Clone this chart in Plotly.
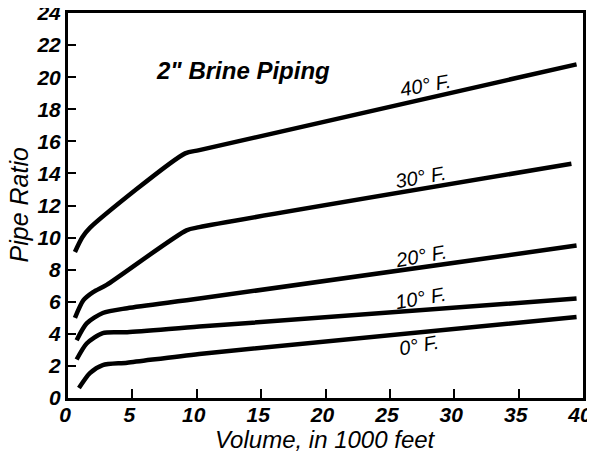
import plotly.graph_objects as go

# Data
vol_40 = [0.54, 1.1, 1.7, 9.1, 10.2, 39.5]
ratio_40 = [9.1, 10.0, 10.6, 15.25, 15.45, 20.8]

vol_30 = [0.54, 1.2, 1.95, 3.0, 9.2, 10.2, 39.1]
ratio_30 = [5.0, 6.1, 6.6, 7.05, 10.45, 10.65, 14.6]

vol_20 = [0.67, 1.45, 2.7, 4.6, 10.2, 39.5]
ratio_20 = [3.6, 4.65, 5.3, 5.6, 6.2, 9.5]

vol_10 = [0.67, 1.45, 2.7, 4.6, 10.2, 39.5]
ratio_10 = [2.4, 3.4, 4.05, 4.1, 4.45, 6.2]

vol_0 = [0.85, 1.7, 2.7, 4.6, 10.2, 39.5]
ratio_0 = [0.62, 1.55, 2.05, 2.2, 2.75, 5.05]

series = [
    ("40° F.", vol_40, ratio_40),
    ("30° F.", vol_30, ratio_30),
    ("20° F.", vol_20, ratio_20),
    ("10° F.", vol_10, ratio_10),
    ("0° F.", vol_0, ratio_0),
]

label_x = [27.8, 27.4, 27.4, 27.4, 27.3]
label_y = [19.5, 13.8, 8.85, 6.25, 3.3]

x_ticks = [0, 5, 10, 15, 20, 25, 30, 35, 40]
y_ticks = [0, 2, 4, 6, 8, 10, 12, 14, 16, 18, 20, 22, 24]

FONT = "Liberation Sans"

fig = go.Figure()
for name, xs, ys in series:
    fig.add_trace(go.Scatter(
        x=xs, y=ys, mode="lines", name=name,
        line=dict(color="black", width=4.5, shape="spline", smoothing=0.7),
        showlegend=False, hoverinfo="skip", cliponaxis=False,
    ))

for (name, _, _), lx, ly in zip(series, label_x, label_y):
    fig.add_annotation(
        x=lx, y=ly, text=name, showarrow=False, textangle=-10,
        font=dict(family=FONT, size=20, color="black", style="italic"),
    )

fig.add_annotation(
    x=13.6, y=20.4, text='2" Brine Piping', showarrow=False,
    font=dict(family=FONT, size=24, color="black", style="italic", weight="bold"),
)

# axis titles
fig.add_annotation(
    xref="paper", yref="paper", x=0.5, y=0, yanchor="middle", yshift=-41,
    text="Volume, in 1000 feet", showarrow=False,
    font=dict(family=FONT, size=24, color="black", style="italic"),
)
fig.add_annotation(
    xref="paper", yref="paper", x=0, y=0.5, xanchor="center", xshift=-50,
    textangle=-90, text="Pipe Ratio", showarrow=False,
    font=dict(family=FONT, size=25, color="black", style="italic"),
)

# page body adds an 8px offset, so margins compensate
fig.update_layout(
    width=595, height=456,
    margin=dict(l=60, r=20, t=5, b=66, autoexpand=False),
    paper_bgcolor="white", plot_bgcolor="white",
)
fig.update_xaxes(
    range=[0, 40], tickvals=x_ticks, ticktext=[str(v) for v in x_ticks],
    showgrid=False, zeroline=False, automargin=False,
    showline=True, linecolor="black", linewidth=3, mirror=True,
    ticks="inside", ticklen=9, tickwidth=2, tickcolor="black",
    ticklabelshift=-3, ticklabelstandoff=-4, ticklabeloverflow="allow",
    tickfont=dict(family=FONT, size=21, color="black", style="italic", weight="bold"),
)
fig.update_yaxes(
    range=[0, 24], tickvals=y_ticks, ticktext=[str(v) for v in y_ticks],
    showgrid=False, zeroline=False, automargin=False,
    showline=True, linecolor="black", linewidth=3, mirror=True,
    ticks="inside", ticklen=8, tickwidth=2, tickcolor="black",
    ticklabeloverflow="allow",
    tickfont=dict(family=FONT, size=21, color="black", style="italic", weight="bold"),
)

fig.write_html("out.html")
